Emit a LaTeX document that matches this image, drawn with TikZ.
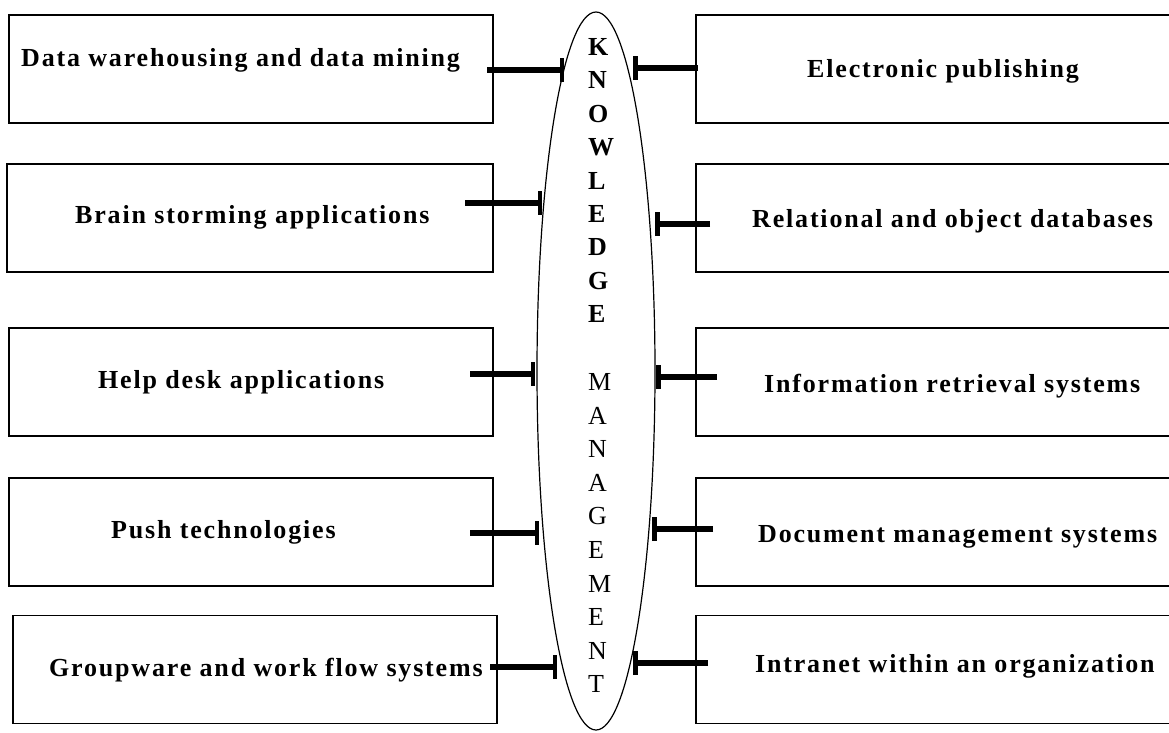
\documentclass[tikz,border=0pt]{standalone}
\usepackage{fontspec}
\setmainfont{Liberation Serif}[LetterSpace=7]
\usetikzlibrary{shapes.geometric,arrows.meta}

\tikzset{
  box/.style={draw, rectangle, line width=1.2pt, inner sep=0pt, minimum height=108pt},
  boxtext/.style={anchor=base west, inner sep=0pt, font=\fontsize{26}{30}\selectfont\bfseries},
  kmletter/.style={anchor=west, inner sep=0pt, font=\fontsize{26}{30}\selectfont},
  feed/.style={line width=6pt, -{Bar[width=24pt,line width=4.5pt]}}
}

\begin{document}
\begin{tikzpicture}[x=1pt, y=-1pt]
    \useasboundingbox (0,0) rectangle (1169,732);

    % centre
    \node[draw, ellipse, line width=1.2pt, minimum width=118pt, minimum height=718pt] (km) at (596,371) {};
    \foreach \l [count=\i from 0] in {K,N,O,W,L,E,D,G,E}
      \node[kmletter, font=\fontsize{26}{30}\selectfont\bfseries] (k\i) at (588,47+33.4*\i) {\l};
    \foreach \l [count=\i from 0] in {M,A,N,A,G,E,M,E,N,T}
      \node[kmletter] (m\i) at (588,382+33.6*\i) {\l};

    % left side
    \node[box, minimum width=484pt] (dw) at (251,69) {};
    \node[box, minimum width=486pt] (bs) at (250,218) {};
    \node[box, minimum width=484pt] (hd) at (251,382) {};
    \node[box, minimum width=484pt] (pt) at (251,532) {};
    \node[box, minimum width=484pt] (gw) at (255,669.5) {};

    \node[boxtext] (dwt) at (21,66) {Data warehousing and data mining};
    \node[boxtext] (bst) at (75,223) {Brain storming applications};
    \node[boxtext] (hdt) at (98,388) {Help desk applications};
    \node[boxtext] (ptt) at (111,538) {Push technologies};
    \node[boxtext] (gwt) at (49,676) {Groupware and work flow systems};

    % right side
    \node[box, minimum width=480pt] (ep) at (936,69) {};
    \node[box, minimum width=480pt] (ro) at (936,218) {};
    \node[box, minimum width=480pt] (ir) at (936,382) {};
    \node[box, minimum width=480pt] (dm) at (936,532) {};
    \node[box, minimum width=480pt] (in) at (936,669.5) {};

    \node[boxtext] (ept) at (807,77) {Electronic publishing};
    \node[boxtext] (rot) at (752,227) {Relational and object databases};
    \node[boxtext] (irt) at (764,392) {Information retrieval systems};
    \node[boxtext] (dmt) at (758,542) {Document management systems};
    \node[boxtext] (int) at (755,672) {Intranet within an organization};

    % arrow ends
    \coordinate (dws) at (487,70);  \coordinate (dwe) at (564,70);
    \coordinate (bss) at (465,203); \coordinate (bse) at (542,203);
    \coordinate (hds) at (470,374); \coordinate (hde) at (535,374);
    \coordinate (pts) at (470,533); \coordinate (pte) at (539,533);
    \coordinate (gws) at (490,667); \coordinate (gwe) at (557,667);
    \coordinate (eps) at (698,68);  \coordinate (epe) at (633,68);
    \coordinate (ros) at (710,224); \coordinate (roe) at (655,224);
    \coordinate (irs) at (717,377); \coordinate (ire) at (656,377);
    \coordinate (dms) at (713,529); \coordinate (dme) at (652,529);
    \coordinate (ins) at (708,663); \coordinate (ine) at (633,663);

    \draw[feed] (dws) -- (dwe);
    \draw[feed] (bss) -- (bse);
    \draw[feed] (hds) -- (hde);
    \draw[feed] (pts) -- (pte);
    \draw[feed] (gws) -- (gwe);
    \draw[feed] (eps) -- (epe);
    \draw[feed] (ros) -- (roe);
    \draw[feed] (irs) -- (ire);
    \draw[feed] (dms) -- (dme);
    \draw[feed] (ins) -- (ine);
\end{tikzpicture}
\end{document}
